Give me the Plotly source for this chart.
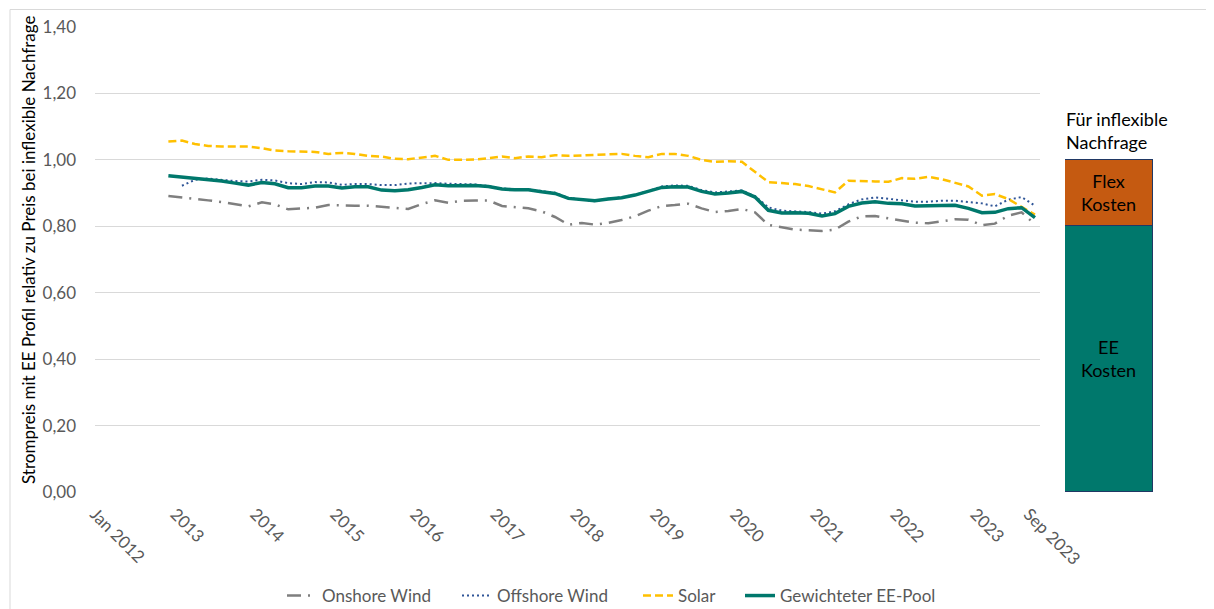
import pandas as pd
import plotly.graph_objects as go

dates = pd.date_range("2012-12-01", "2023-10-01", freq="2MS")

onshore = [0.891, 0.887, 0.882, 0.878, 0.873, 0.866, 0.860, 0.872, 0.866, 0.851, 0.853, 0.856, 0.864,
           0.862, 0.862, 0.862, 0.859, 0.854, 0.852, 0.867, 0.878, 0.871, 0.877, 0.878, 0.878,
           0.861, 0.857, 0.854, 0.845, 0.828, 0.805, 0.810, 0.805, 0.810, 0.819, 0.830, 0.847,
           0.861, 0.864, 0.868, 0.854, 0.843, 0.846, 0.852, 0.842, 0.804, 0.797, 0.790, 0.788,
           0.786, 0.790, 0.814, 0.830, 0.831, 0.824, 0.818, 0.811, 0.809, 0.816, 0.821, 0.820,
           0.803, 0.808, 0.832, 0.842, 0.806]
offshore = [None, 0.922, 0.940, 0.944, 0.940, 0.936, 0.935, 0.940, 0.938, 0.930, 0.927, 0.933, 0.932,
            0.925, 0.927, 0.927, 0.924, 0.924, 0.929, 0.930, 0.930, 0.928, 0.928, 0.926, 0.921,
            0.914, 0.912, 0.911, 0.906, 0.901, 0.886, 0.881, 0.875, 0.883, 0.887, 0.895, 0.906,
            0.920, 0.923, 0.922, 0.909, 0.902, 0.905, 0.908, 0.891, 0.857, 0.847, 0.845, 0.843,
            0.838, 0.845, 0.866, 0.881, 0.887, 0.883, 0.877, 0.874, 0.874, 0.877, 0.877, 0.872,
            0.869, 0.860, 0.880, 0.888, 0.862]
solar = [1.055, 1.058, 1.048, 1.042, 1.040, 1.040, 1.040, 1.035, 1.028, 1.026, 1.024, 1.024, 1.018,
         1.021, 1.018, 1.012, 1.010, 1.003, 1.002, 1.008, 1.012, 1.000, 1.000, 1.001, 1.005,
         1.010, 1.005, 1.010, 1.008, 1.014, 1.012, 1.014, 1.015, 1.016, 1.018, 1.012, 1.008,
         1.018, 1.018, 1.012, 1.000, 0.994, 0.996, 0.994, 0.965, 0.933, 0.930, 0.927, 0.921,
         0.911, 0.902, 0.937, 0.935, 0.935, 0.934, 0.945, 0.943, 0.949, 0.942, 0.932, 0.920,
         0.892, 0.897, 0.882, 0.858, 0.835]
pool = [0.952, 0.948, 0.945, 0.942, 0.936, 0.930, 0.924, 0.932, 0.928, 0.916, 0.916, 0.921, 0.921,
        0.915, 0.919, 0.919, 0.909, 0.907, 0.910, 0.917, 0.925, 0.922, 0.922, 0.923, 0.920,
        0.912, 0.910, 0.910, 0.904, 0.899, 0.884, 0.880, 0.877, 0.882, 0.886, 0.894, 0.905,
        0.917, 0.919, 0.918, 0.905, 0.897, 0.900, 0.905, 0.888, 0.848, 0.840, 0.841, 0.839,
        0.831, 0.838, 0.860, 0.870, 0.874, 0.869, 0.868, 0.861, 0.861, 0.862, 0.863, 0.854,
        0.841, 0.842, 0.853, 0.856, 0.826]

tick_dates = ["2012-01-01", "2013-01-01", "2014-01-01", "2015-01-01", "2016-01-01", "2017-01-01",
              "2018-01-01", "2019-01-01", "2020-01-01", "2021-01-01", "2022-01-01", "2023-01-01",
              "2023-09-01"]
tick_labels = ["Jan 2012", "2013", "2014", "2015", "2016", "2017", "2018", "2019", "2020", "2021",
               "2022", "2023", "Sep 2023"]

bar_names = ["EE<br>Kosten", "Flex<br>Kosten"]
bar_values = [0.80, 0.20]
bar_colors = ["#00786C", "#C55A11"]

FONT = "Lato"
GRAY = "#595959"

# page offset of the plot div inside the browser (body margin)
OFF = 8
W, H = 1214, 609
L = 95 - OFF
T = 27 - OFF
PW = 1153 - 95
PH = 492 - 27
R = W - L - PW
B = H - T - PH


def px(x):
    """screen x -> paper x"""
    return (x - OFF - L) / PW


def py(y):
    """screen y -> paper y"""
    return (T + PH - (y - OFF)) / PH


fig = go.Figure()
fig.add_trace(go.Scatter(x=dates, y=onshore, name="Onshore Wind", mode="lines", legend="legend",
                         line=dict(color="#7F7F7F", width=2.5, dash="14px,7px,2px,7px")))
fig.add_trace(go.Scatter(x=dates, y=offshore, name="Offshore Wind", mode="lines", legend="legend2",
                         line=dict(color="#2F5597", width=2, dash="2px,3px")))
fig.add_trace(go.Scatter(x=dates, y=solar, name="Solar", mode="lines", legend="legend3",
                         line=dict(color="#FFC000", width=2.5, dash="8px,4px")))
fig.add_trace(go.Scatter(x=dates, y=pool, name="Gewichteter EE-Pool", mode="lines", legend="legend4",
                         line=dict(color="#00786C", width=3.5)))

for n, v, c in zip(bar_names, bar_values, bar_colors):
    fig.add_trace(go.Bar(x=["b"], y=[v], xaxis="x2", yaxis="y2",
                         marker=dict(color=c, line=dict(color="#203864", width=1)),
                         text=[n], textposition="inside", insidetextanchor="middle",
                         textfont=dict(color="black", size=18, family=FONT), showlegend=False,
                         hoverinfo="skip"))

leg_common = dict(orientation="h", xanchor="left", yanchor="middle", y=py(596),
                  font=dict(size=17, color=GRAY, family=FONT), itemwidth=30,
                  bgcolor="rgba(0,0,0,0)")

fig.update_layout(
    width=W, height=H,
    margin=dict(l=L, r=R, t=T, b=B, autoexpand=False),
    paper_bgcolor="white", plot_bgcolor="white",
    separators=",.",
    barmode="stack", bargap=0,
    font=dict(family=FONT, size=17, color=GRAY),
    xaxis=dict(domain=[0, px(1040)], type="date", range=["2012-01-01", "2023-10-24"],
               tickvals=tick_dates, ticktext=tick_labels, tickangle=45, automargin=False,
               showgrid=False, zeroline=False, showline=False, ticks="", ticklabelstandoff=8,
               tickfont=dict(size=17, color=GRAY, family=FONT)),
    yaxis=dict(range=[0, 1.4], dtick=0.2, tickformat=".2f", showgrid=True, gridcolor="#D9D9D9",
               gridwidth=1, zeroline=False, showline=False, ticks="", ticklabelstandoff=18,
               automargin=False, tickfont=dict(size=17, color=GRAY, family=FONT)),
    xaxis2=dict(domain=[px(1065), 1.0], anchor="y2", showticklabels=False, showgrid=False,
                zeroline=False, range=[-0.5, 0.5], automargin=False),
    yaxis2=dict(domain=[0, 1], anchor="x2", range=[0, 1.4], visible=False, showgrid=False,
                automargin=False),
    legend=dict(x=px(287 - 5), **leg_common),
    legend2=dict(x=px(462 - 5), **leg_common),
    legend3=dict(x=px(643 - 5), **leg_common),
    legend4=dict(x=px(745 - 5), **leg_common),
    showlegend=True,
)

fig.add_annotation(text="Strompreis mit EE Profil relativ zu Preis bei inflexible Nachfrage",
                   xref="paper", yref="paper", x=px(28), y=py(250), textangle=-90,
                   showarrow=False, font=dict(size=17, color="black", family=FONT),
                   xanchor="center", yanchor="middle")
fig.add_annotation(text="Für inflexible<br>Nachfrage", xref="paper", yref="paper",
                   x=px(1064), y=py(131), xanchor="left", yanchor="middle", align="left",
                   showarrow=False, font=dict(size=18, color="black", family=FONT))

fig.add_shape(type="rect", xref="paper", yref="paper", x0=px(10), x1=px(1240), y0=py(640), y1=py(9.5),
              line=dict(color="#D9D9D9", width=1), layer="below")

fig.write_html("out.html")
